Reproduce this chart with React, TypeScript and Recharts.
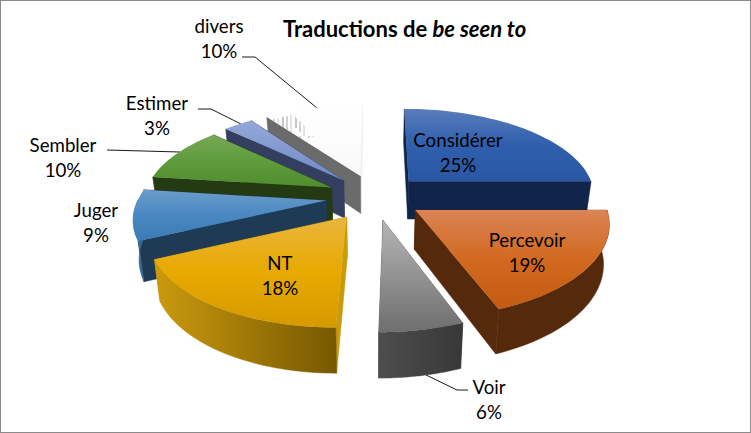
import React from "react"
import { PieChart, Pie } from "recharts"

const names = ["Considérer", "Percevoir", "Voir", "NT", "Juger", "Sembler", "Estimer", "divers"]
const shares = [25, 19, 6, 18, 9, 10, 3, 10]
const table = names.map((name, i) => ({ name, share: shares[i] }))

// far slices first, the near ones have to cover them
const paintOrder = [7, 6, 0, 5, 4, 1, 3, 2]

const looks = [
  { top: ["#5a7cbb", "#2f5fad", "#2a57a3"], wall: "#11244a", endWall: "#11244a", rim: ["#11244a", "#11244a"] },
  { top: ["#da8455", "#d2691f", "#c45b12"], wall: "#55290c", endWall: "#55290c", rim: ["#55290c", "#55290c"] },
  { top: ["#b5b5b5", "#929292", "#6e6e6e"], wall: "#555555", endWall: "#555555", rim: ["#4d4d4d", "#383838"] },
  { top: ["#e9b63f", "#e8a900", "#d69a00"], wall: "#c99a0a", endWall: "#c99a0a", rim: ["#cb9a0e", "#765800"] },
  { top: ["#6a9ccb", "#4a88c2", "#3b7ab4"], wall: "#1e3a55", endWall: "#1e3a55", rim: ["#3d78a8", "#2f5f88"] },
  { top: ["#78a858", "#5e9c3c", "#4f8c2e"], wall: "#243a12", endWall: "#243a12", rim: ["#243a12", "#243a12"] },
  { top: ["#94a8d8", "#8299d0", "#7089c4"], wall: "#343f60", endWall: "#343f60", rim: ["#343f60", "#343f60"] },
  { top: ["#fefefe", "#fcfcfc", "#f8f8f8"], wall: "#6b6b6b", endWall: "#ececec", rim: ["#f4f4f4", "#f4f4f4"] },
]

// label anchors, same order as names
const labelSpots = [
  [458, 147], [527, 247], [489, 394], [280, 270], [96, 217], [63, 152], [157, 110], [219, 33],
]

const leaders = [
  "242,57 255,57 317,108",
  "198,109 211,109 241,124",
  "107,150 180,152",
  "422,373 457,390 468,390",
]

// projection of the tilted pie
const TILT = 0.467
const PERSP = 0.149
const EXPLODE = 0.26
const DEPTH = 38.5
const CONVERGE = 0.025
const SHEAR = 6

function SliceShape(props: any) {
  const { cx, cy, outerRadius, startAngle, endAngle, index } = props
  const look = looks[index]
  const mid = (((startAngle + endAngle) / 2) * Math.PI) / 180
  const ox = EXPLODE * Math.cos(mid)
  const oy = EXPLODE * Math.sin(mid)

  const project = (px: number, py: number) => {
    const s = 1 / (1 + PERSP * py)
    const topX = cx + outerRadius * px * s + SHEAR * Math.min(py, 0)
    const topY = cy - outerRadius * TILT * py * s
    return {
      topX,
      topY,
      botX: cx + (topX - cx) * (1 - CONVERGE),
      botY: topY + DEPTH * Math.pow(s, 0.85),
    }
  }
  const at = (deg: number, r: number) => {
    const a = (deg * Math.PI) / 180
    return project(ox + r * Math.cos(a), oy + r * Math.sin(a))
  }

  const rim = []
  const frontRim = []
  for (let i = 0; i <= 40; i++) {
    const deg = startAngle + ((endAngle - startAngle) * i) / 40
    const p = at(deg, 1)
    rim.push(p)
    // only the part of the rim turned towards the viewer can be seen
    if (Math.sin((deg * Math.PI) / 180) <= 0.02) frontRim.push(p)
  }
  const apex = at(startAngle, 0)
  const a = rim[0]
  const b = rim[rim.length - 1]
  const pt = (x: number, y: number) => `${x.toFixed(1)},${y.toFixed(1)}`
  const wall = (p: any, q: any) =>
    [pt(p.topX, p.topY), pt(q.topX, q.topY), pt(q.botX, q.botY), pt(p.botX, p.botY)].join(" ")

  const topFace = [pt(apex.topX, apex.topY), ...rim.map((p) => pt(p.topX, p.topY))].join(" ")
  const rimWall = [
    ...frontRim.map((p) => pt(p.topX, p.topY)),
    ...frontRim.slice().reverse().map((p) => pt(p.botX, p.botY)),
  ].join(" ")

  // the scratchy patch on the divers slice, near its left rim
  const patch =
    index === 7
      ? [at(startAngle, 0.95), at(startAngle - 9, 0.95), at(startAngle - 9, 0.6), at(startAngle, 0.6)]
          .map((p) => pt(p.topX, p.topY))
          .join(" ")
      : null

  return (
    <g>
      <defs>
        <linearGradient id={`top${index}`} x1="0" y1="0" x2="0" y2="1">
          <stop offset="0" stopColor={look.top[0]} />
          <stop offset="0.5" stopColor={look.top[1]} />
          <stop offset="1" stopColor={look.top[2]} />
        </linearGradient>
        <linearGradient id={`rim${index}`} x1="0" y1="0" x2="1" y2="0">
          <stop offset="0" stopColor={look.rim[0]} />
          <stop offset="1" stopColor={look.rim[1]} />
        </linearGradient>
        <pattern id="scratch" width="13" height="34" patternUnits="userSpaceOnUse">
          <line x1="1" y1="0" x2="1" y2="30" stroke="#a8a8a8" strokeWidth={1} />
          <line x1="5" y1="4" x2="5" y2="34" stroke="#c8c8c8" strokeWidth={1} />
          <line x1="10" y1="0" x2="10" y2="26" stroke="#8e8e8e" strokeWidth={1} />
        </pattern>
      </defs>
      <polygon points={wall(apex, b)} fill={look.endWall} stroke={look.endWall} strokeWidth={0.5} />
      <polygon points={wall(apex, a)} fill={look.wall} stroke={look.wall} strokeWidth={0.5} />
      {frontRim.length > 1 && (
        <polygon points={rimWall} fill={`url(#rim${index})`} stroke={`url(#rim${index})`} strokeWidth={0.5} />
      )}
      <polygon points={topFace} fill={`url(#top${index})`} />
      {patch && <polygon points={patch} fill="url(#scratch)" />}
    </g>
  )
}

function SliceLabel(props: any) {
  const { index } = props
  const [x, y] = labelSpots[index]
  return (
    <text x={x} y={y} textAnchor="middle" fontFamily="Lato" fontSize={18.7} fill="#000">
      <tspan x={x}>{names[index]}</tspan>
      <tspan x={x} dy={25}>{shares[index]}%</tspan>
    </text>
  )
}

export default function App() {
  const lastPainted = paintOrder[paintOrder.length - 1]
  return (
    <div
      style={{
        position: "absolute",
        left: 0,
        top: 0,
        width: 751,
        height: 433,
        background: "#fff",
        boxSizing: "border-box",
        border: "1px solid #8a8a8a",
      }}
    >
      <div style={{ position: "absolute", left: -1, top: -1 }}>
        <PieChart width={751} height={433} margin={{ top: 0, right: 0, bottom: 0, left: 0 }}>
          {paintOrder.map((idx) => (
            <Pie
              key={idx}
              data={table}
              dataKey="share"
              nameKey="name"
              cx={375}
              cy={197}
              outerRadius={187.5}
              startAngle={90}
              endAngle={-270}
              stroke="none"
              isAnimationActive={false}
              shape={(p: any) => (p.index === idx ? <SliceShape {...p} /> : <g />)}
              label={idx === lastPainted ? SliceLabel : false}
              labelLine={false}
            />
          ))}

          {leaders.map((pts) => (
            <polyline key={pts} points={pts} fill="none" stroke="#1a1a1a" strokeWidth={1} />
          ))}

          <text x={283} y={37} fontFamily="Lato" fontSize={22} fontWeight={700} fill="#000">
            Traductions de <tspan fontStyle="italic">be seen to</tspan>
          </text>
        </PieChart>
      </div>
    </div>
  )
}
